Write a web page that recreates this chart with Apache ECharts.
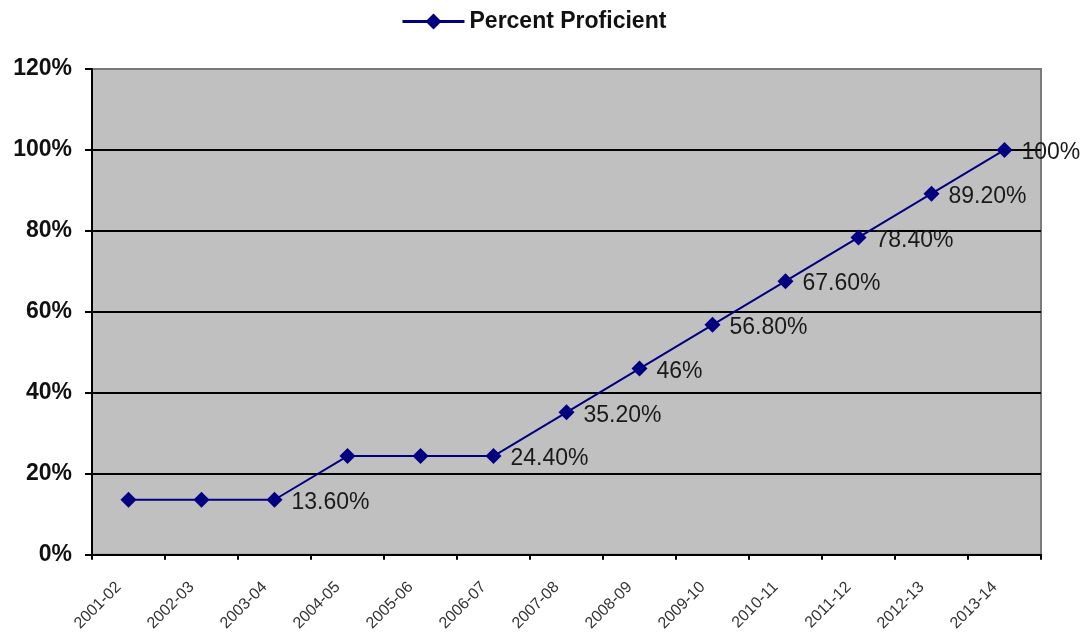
<!DOCTYPE html>
<html>
<head>
<meta charset="utf-8">
<script src="https://cdn.jsdelivr.net/npm/echarts@6/dist/echarts.min.js"></script>
<style>
  html, body { margin: 0; padding: 0; background: #fff; }
  #chart { width: 1088px; height: 634px; }
</style>
</head>
<body>
<div id="chart"></div>
<script>
// School years on the category axis
const years = ['2001-02', '2002-03', '2003-04', '2004-05', '2005-06', '2006-07', '2007-08',
  '2008-09', '2009-10', '2010-11', '2011-12', '2012-13', '2013-14'];

// Percent proficient target for each year
const percentProficient = [13.6, 13.6, 13.6, 24.4, 24.4, 24.4, 35.2, 46, 56.8, 67.6, 78.4, 89.2, 100];

// Points that carry a value label
const labeledPoints = [2, 5, 6, 7, 8, 9, 10, 11, 12];

const seriesName = 'Percent Proficient';

function formatPct(v) {
  return (Number.isInteger(v) ? String(v) : v.toFixed(2)) + '%';
}

const chart = echarts.init(document.getElementById('chart'), null, { renderer: 'canvas' });

chart.setOption({
  animation: false,
  backgroundColor: '#ffffff',
  textStyle: { fontFamily: 'Liberation Sans, Arial, sans-serif' },
  legend: {
    top: 5,
    left: 396,
    itemWidth: 62,
    itemHeight: 20,
    itemGap: 8,
    lineStyle: { width: 3 },
    textStyle: { fontSize: 23, fontWeight: 'bold', color: '#111' },
    data: [seriesName]
  },
  grid: {
    left: 92, right: 47, top: 69, bottom: 78,
    show: true,
    backgroundColor: '#c0c0c0',
    borderColor: '#7a7a7a',
    borderWidth: 2
  },
  xAxis: {
    type: 'category',
    data: years,
    boundaryGap: true,
    axisLine: { show: true, lineStyle: { color: '#000', width: 2 } },
    axisTick: { show: true, alignWithLabel: false, length: 5, lineStyle: { color: '#000', width: 2 } },
    axisLabel: { rotate: 45, fontSize: 16, color: '#333', margin: 20, padding: [0, 14, 0, 0], interval: 0 }
  },
  yAxis: {
    type: 'value',
    min: 0, max: 120, interval: 20,
    axisLine: { show: true, lineStyle: { color: '#000', width: 2 } },
    axisTick: { show: true, length: 7, lineStyle: { color: '#000', width: 2 } },
    axisLabel: { formatter: '{value}%', fontSize: 23, fontWeight: 'bold', color: '#111', margin: 20 },
    splitLine: {
      show: true,
      lineStyle: { color: ['#000', '#000', '#000', '#000', '#000', '#000', '#7a7a7a'], width: 2 }
    }
  },
  series: [{
    name: seriesName,
    type: 'line',
    data: percentProficient.map((v, i) => ({
      value: v,
      label: { show: labeledPoints.includes(i) }
    })),
    symbol: 'diamond',
    symbolSize: 16,
    lineStyle: { color: '#000080', width: 2 },
    itemStyle: { color: '#000080' },
    label: {
      show: false,
      position: 'right',
      distance: 9,
      offset: [0, 3],
      fontSize: 23,
      color: '#1a1a1a',
      formatter: p => formatPct(p.value)
    },
    z: 5
  }]
});
</script>
</body>
</html>
